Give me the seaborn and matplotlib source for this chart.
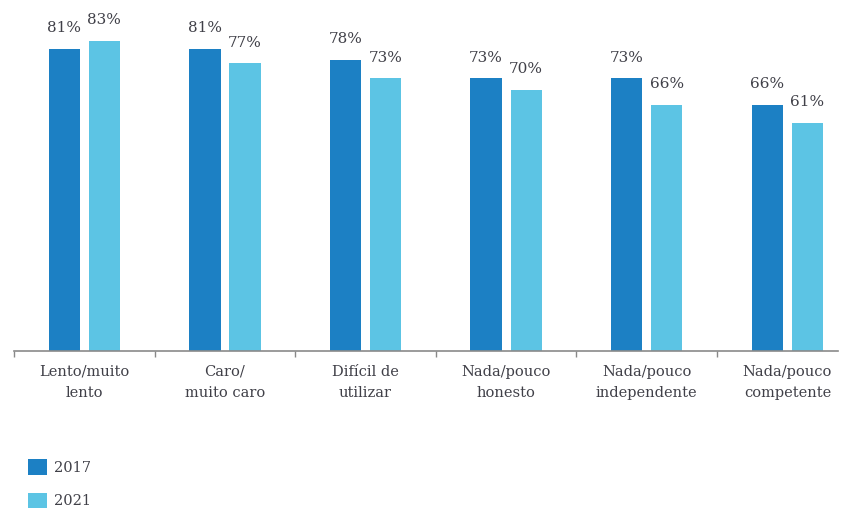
import matplotlib
matplotlib.use("Agg")
import matplotlib.pyplot as plt
import seaborn as sns
import pandas as pd

categories = ["Lento/muito\nlento", "Caro/\nmuito caro", "Difícil de\nutilizar",
              "Nada/pouco\nhonesto", "Nada/pouco\nindependente", "Nada/pouco\ncompetente"]
years = ["2017", "2021"]
values_2017 = [81, 81, 78, 73, 73, 66]
values_2021 = [83, 77, 73, 70, 66, 61]
colors = ["#1c80c4", "#5cc4e4"]

df = pd.DataFrame({
    "cat": categories * 2,
    "year": [years[0]] * len(categories) + [years[1]] * len(categories),
    "val": values_2017 + values_2021,
})

sns.set_theme(style="white")
plt.rcParams["font.family"] = ["DejaVu Serif"]
txt = "#404048"

fig = plt.figure(figsize=(8.45, 5.11), dpi=100)
ax = fig.add_axes([14 / 845, 160 / 511, 824 / 845, 351 / 511])

sns.barplot(data=df, x="cat", y="val", hue="year", palette=colors,
            width=0.57, gap=0.22, ax=ax, saturation=1, legend=True, linewidth=0)

for cont in ax.containers:
    ax.bar_label(cont, labels=[f"{v:.0f}%" for v in cont.datavalues],
                 padding=10, fontsize=11, color=txt)

ax.set_ylim(0, 94)
ax.set_xlim(-0.5, 5.36)
ax.set_xlabel("")
ax.set_ylabel("")
ax.set_yticks([])
ax.set_xticks([i - 0.5 for i in range(6)], minor=True)
ax.set_xticks(range(6))
ax.set_xticklabels(categories, fontsize=10.5, color=txt, linespacing=1.65)
ax.tick_params(axis="x", which="major", length=0, pad=10)
ax.tick_params(axis="x", which="minor", length=4, color="#888888", direction="out", bottom=True)
for s in ["top", "right", "left"]:
    ax.spines[s].set_visible(False)
ax.spines["bottom"].set_color("#8a8a8a")
ax.spines["bottom"].set_linewidth(1.2)

handles, labels = ax.get_legend_handles_labels()
ax.get_legend().remove()
fig.legend(handles, labels, loc="upper left", bbox_to_anchor=(15 / 845, 1 - 446 / 511),
           frameon=False, fontsize=10.5, handlelength=1.3, handleheight=1.3,
           labelspacing=1.2, handletextpad=0.45, labelcolor=txt)

fig.savefig("out.png", dpi=100)
